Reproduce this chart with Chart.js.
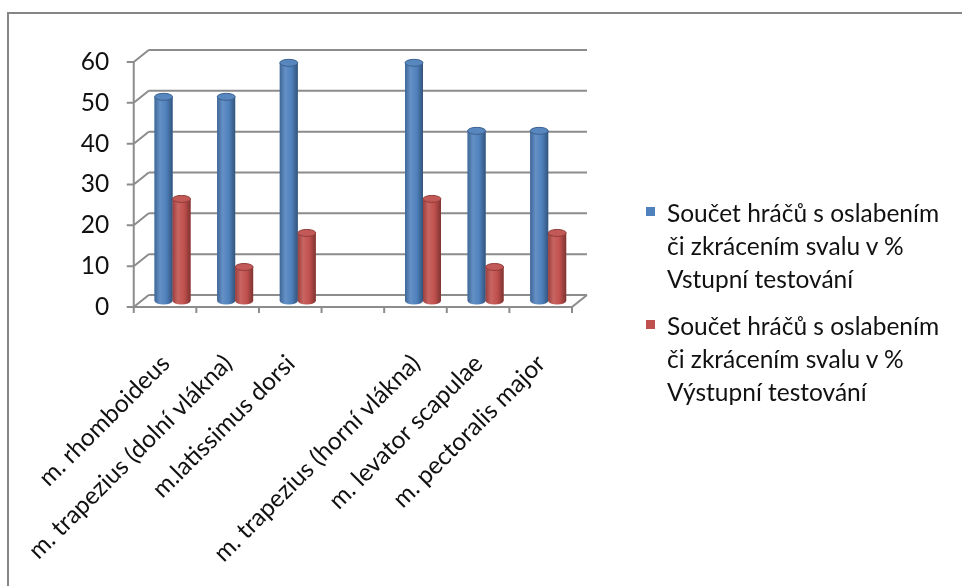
<!DOCTYPE html>
<html>
<head>
<meta charset="utf-8">
<script src="https://cdn.jsdelivr.net/npm/chart.js@4/dist/chart.umd.min.js"></script>
<style>
    html, body { margin: 0; padding: 0; background: #fff; overflow: hidden; }
    #wrap { position: relative; width: 962px; height: 586px; overflow: hidden; }
    #frame { position: absolute; left: 7px; top: 12px; width: 1200px; height: 900px; border: 2px solid #868686; }
    #chart { position: absolute; left: 0; top: 0; }
    #legend { position: absolute; left: 646px; top: 196px; font-family: Lato, sans-serif; font-size: 24.5px; line-height: 33px; color: #111; }
    .item { position: relative; padding-left: 21px; margin-bottom: 14px; }
    .swatch { position: absolute; left: 0; top: 11px; width: 9px; height: 9px; }
</style>
</head>
<body>
<div id="wrap">
    <div id="frame"></div>
    <canvas id="chart" width="962" height="586"></canvas>
    <div id="legend"></div>
</div>
<script>
// Categories (one empty slot in the middle, as in the original sheet)
const categories = [
    'm. rhomboideus',
    'm. trapezius (dolní vlákna)',
    'm.latissimus dorsi',
    '',
    'm. trapezius (horní vlákna)',
    'm. levator scapulae',
    'm. pectoralis major'
];

// Percent of players with weakened or shortened muscle
const entryValues = [50, 50, 58.33, null, 58.33, 41.67, 41.67];
const exitValues = [25, 8.33, 16.67, null, 25, 8.33, 16.67];

const seriesNames = [
    ['Součet hráčů s oslabením', 'či zkrácením svalu v %', 'Vstupní testování'],
    ['Součet hráčů s oslabením', 'či zkrácením svalu v %', 'Výstupní testování']
];
const seriesColors = ['#4F81BD', '#C0504D'];

const yTicks = [0, 10, 20, 30, 40, 50, 60];

// half depth of the fake 3D box (bars sit in the middle)
const DX = 7.5;
const DY = 6;
const GRID = '#8c8c8c';
const FONT = 'Lato, sans-serif';

function shade(hex, f) {
    const n = parseInt(hex.slice(1), 16);
    let r = (n >> 16) & 255, g = (n >> 8) & 255, b = n & 255;
    const m = v => Math.max(0, Math.min(255, Math.round(f >= 0 ? v + (255 - v) * f : v * (1 + f))));
    return `rgb(${m(r)}, ${m(g)}, ${m(b)})`;
}

const wallsPlugin = {
    id: 'walls',
    beforeDatasetsDraw(chart) {
        const ctx = chart.ctx;
        const area = chart.chartArea;
        const ys = chart.scales.y;
        const xs = chart.scales.x;
        ctx.save();
        ctx.strokeStyle = GRID;
        ctx.lineWidth = 2;
        ctx.beginPath();
        yTicks.forEach(v => {
            const yb = ys.getPixelForValue(v) - DY;
            ctx.moveTo(area.left + DX, yb);
            ctx.lineTo(area.right + DX, yb);
            ctx.moveTo(area.left - DX, yb + 2 * DY);
            ctx.lineTo(area.left + DX, yb);
            // tick marks on the front axis
            ctx.moveTo(area.left - DX - 7, yb + 2 * DY);
            ctx.lineTo(area.left - DX, yb + 2 * DY);
        });
        const yTop = ys.getPixelForValue(yTicks[yTicks.length - 1]) + DY;
        const y0 = ys.getPixelForValue(0) + DY;
        ctx.moveTo(area.left - DX, yTop);
        ctx.lineTo(area.left - DX, y0);
        ctx.lineTo(area.right - DX, y0);
        ctx.lineTo(area.right + DX, y0 - 2 * DY);
        const half = (xs.getPixelForValue(1) - xs.getPixelForValue(0)) / 2;
        for (let i = 0; i <= categories.length; i++) {
            const bx = xs.getPixelForValue(i) - half - DX;
            ctx.moveTo(bx, y0);
            ctx.lineTo(bx, y0 + 6);
        }
        ctx.stroke();
        ctx.restore();
    },
    afterDatasetsDraw(chart) {
        const ctx = chart.ctx;
        chart.data.datasets.forEach((ds, di) => {
            const meta = chart.getDatasetMeta(di);
            const col = seriesColors[di];
            meta.data.forEach((bar, i) => {
                if (ds.data[i] == null) return;
                const w = bar.width, x0 = bar.x - w / 2, r = 3.5;
                const g = ctx.createLinearGradient(x0, 0, x0 + w, 0);
                g.addColorStop(0, shade(col, -0.2));
                g.addColorStop(0.3, shade(col, 0.12));
                g.addColorStop(0.65, col);
                g.addColorStop(1, shade(col, -0.35));
                ctx.save();
                ctx.fillStyle = g;
                ctx.fillRect(x0, bar.y, w, bar.base - bar.y);
                ctx.beginPath();
                ctx.ellipse(bar.x, bar.base, w / 2, r, 0, 0, Math.PI);
                ctx.fill();
                ctx.beginPath();
                ctx.ellipse(bar.x, bar.y, w / 2, r, 0, 0, Math.PI * 2);
                ctx.fillStyle = shade(col, 0.05);
                ctx.fill();
                ctx.strokeStyle = shade(col, -0.25);
                ctx.lineWidth = 1;
                ctx.stroke();
                ctx.restore();
            });
        });
    }
};

const chart = new Chart(document.getElementById('chart'), {
    type: 'bar',
    data: {
        labels: categories,
        datasets: [
            { label: seriesNames[0].join(' '), data: entryValues, backgroundColor: seriesColors[0] },
            { label: seriesNames[1].join(' '), data: exitValues, backgroundColor: seriesColors[1] }
        ]
    },
    options: {
        responsive: false,
        animation: false,
        layout: { padding: { left: 0, top: 56, right: 382.5, bottom: 0 } },
        datasets: { bar: { barPercentage: 1, categoryPercentage: 0.574 } },
        plugins: { legend: { display: false }, tooltip: { enabled: false } },
        scales: {
            x: {
                grid: { display: false },
                border: { display: false },
                ticks: {
                    autoSkip: false, minRotation: 45, maxRotation: 45,
                    padding: 40, labelOffset: -7, color: '#111',
                    font: { family: FONT, size: 24.5 }
                },
                afterFit(scale) { scale.height = 285; }
            },
            y: {
                min: 0, max: 60,
                grid: { display: false },
                border: { display: false },
                ticks: {
                    stepSize: 10, padding: 24, labelOffset: DY, color: '#111',
                    font: { family: FONT, size: 24.5 }
                },
                afterFit(scale) { scale.width = 140.5; }
            }
        }
    },
    plugins: [wallsPlugin]
});

// HTML legend (multi-line entries)
const legend = document.getElementById('legend');
seriesNames.forEach((lines, i) => {
    const item = document.createElement('div');
    item.className = 'item';
    item.innerHTML = `<span class="swatch" style="background:${seriesColors[i]}"></span>` + lines.join('<br>');
    legend.appendChild(item);
});
</script>
</body>
</html>
